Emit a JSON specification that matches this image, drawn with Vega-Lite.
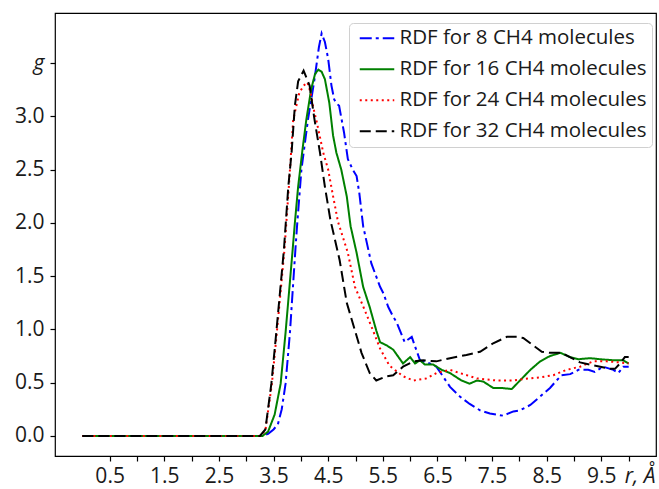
{
  "$schema": "https://vega.github.io/schema/vega-lite/v6.json",
  "width": 601,
  "height": 443,
  "autosize": {"type": "none"},
  "padding": {"left": 55, "top": 13, "right": 3, "bottom": 33},
  "background": "white",
  "config": {
    "view": {"stroke": "black", "strokeWidth": 1.2},
    "axis": {"domain": false, "grid": false, "tickColor": "black", "tickSize": 5, "tickWidth": 1.2, "labelFont": "Open Sans", "labelFontSize": 21, "labelColor": "#1a1a1a", "title": null}
  },
  "data": {"values": [
    {"s":"RDF for 8 CH4 molecules","r":0,"g":0},{"s":"RDF for 8 CH4 molecules","r":3.3,"g":0},{"s":"RDF for 8 CH4 molecules","r":3.4,"g":0.02},{"s":"RDF for 8 CH4 molecules","r":3.5,"g":0.06},{"s":"RDF for 8 CH4 molecules","r":3.58,"g":0.11},{"s":"RDF for 8 CH4 molecules","r":3.65,"g":0.25},{"s":"RDF for 8 CH4 molecules","r":3.72,"g":0.49},{"s":"RDF for 8 CH4 molecules","r":3.8,"g":0.97},{"s":"RDF for 8 CH4 molecules","r":3.9,"g":1.75},{"s":"RDF for 8 CH4 molecules","r":3.93,"g":1.97},{"s":"RDF for 8 CH4 molecules","r":4.01,"g":2.5},{"s":"RDF for 8 CH4 molecules","r":4.13,"g":2.97},{"s":"RDF for 8 CH4 molecules","r":4.25,"g":3.35},{"s":"RDF for 8 CH4 molecules","r":4.33,"g":3.65},{"s":"RDF for 8 CH4 molecules","r":4.38,"g":3.78},{"s":"RDF for 8 CH4 molecules","r":4.44,"g":3.7},{"s":"RDF for 8 CH4 molecules","r":4.5,"g":3.54},{"s":"RDF for 8 CH4 molecules","r":4.56,"g":3.29},{"s":"RDF for 8 CH4 molecules","r":4.61,"g":3.16},{"s":"RDF for 8 CH4 molecules","r":4.66,"g":3.12},{"s":"RDF for 8 CH4 molecules","r":4.7,"g":3.1},{"s":"RDF for 8 CH4 molecules","r":4.79,"g":2.85},{"s":"RDF for 8 CH4 molecules","r":4.86,"g":2.6},{"s":"RDF for 8 CH4 molecules","r":4.95,"g":2.5},{"s":"RDF for 8 CH4 molecules","r":5.02,"g":2.44},{"s":"RDF for 8 CH4 molecules","r":5.07,"g":2.28},{"s":"RDF for 8 CH4 molecules","r":5.14,"g":1.97},{"s":"RDF for 8 CH4 molecules","r":5.29,"g":1.62},{"s":"RDF for 8 CH4 molecules","r":5.45,"g":1.4},{"s":"RDF for 8 CH4 molecules","r":5.51,"g":1.34},{"s":"RDF for 8 CH4 molecules","r":5.6,"g":1.21},{"s":"RDF for 8 CH4 molecules","r":5.69,"g":1.12},{"s":"RDF for 8 CH4 molecules","r":5.75,"g":1.07},{"s":"RDF for 8 CH4 molecules","r":5.9,"g":0.88},{"s":"RDF for 8 CH4 molecules","r":5.95,"g":0.9},{"s":"RDF for 8 CH4 molecules","r":6.03,"g":0.93},{"s":"RDF for 8 CH4 molecules","r":6.09,"g":0.84},{"s":"RDF for 8 CH4 molecules","r":6.18,"g":0.71},{"s":"RDF for 8 CH4 molecules","r":6.36,"g":0.68},{"s":"RDF for 8 CH4 molecules","r":6.48,"g":0.65},{"s":"RDF for 8 CH4 molecules","r":6.6,"g":0.56},{"s":"RDF for 8 CH4 molecules","r":6.73,"g":0.46},{"s":"RDF for 8 CH4 molecules","r":6.91,"g":0.37},{"s":"RDF for 8 CH4 molecules","r":7.09,"g":0.3},{"s":"RDF for 8 CH4 molecules","r":7.28,"g":0.24},{"s":"RDF for 8 CH4 molecules","r":7.46,"g":0.21},{"s":"RDF for 8 CH4 molecules","r":7.7,"g":0.19},{"s":"RDF for 8 CH4 molecules","r":7.89,"g":0.23},{"s":"RDF for 8 CH4 molecules","r":8.01,"g":0.24},{"s":"RDF for 8 CH4 molecules","r":8.2,"g":0.29},{"s":"RDF for 8 CH4 molecules","r":8.38,"g":0.37},{"s":"RDF for 8 CH4 molecules","r":8.56,"g":0.45},{"s":"RDF for 8 CH4 molecules","r":8.68,"g":0.52},{"s":"RDF for 8 CH4 molecules","r":8.77,"g":0.57},{"s":"RDF for 8 CH4 molecules","r":8.93,"g":0.58},{"s":"RDF for 8 CH4 molecules","r":9.08,"g":0.62},{"s":"RDF for 8 CH4 molecules","r":9.26,"g":0.62},{"s":"RDF for 8 CH4 molecules","r":9.38,"g":0.6},{"s":"RDF for 8 CH4 molecules","r":9.53,"g":0.65},{"s":"RDF for 8 CH4 molecules","r":9.72,"g":0.62},{"s":"RDF for 8 CH4 molecules","r":9.81,"g":0.59},{"s":"RDF for 8 CH4 molecules","r":9.9,"g":0.65},{"s":"RDF for 8 CH4 molecules","r":10.0,"g":0.65},

    {"s":"RDF for 16 CH4 molecules","r":0,"g":0},{"s":"RDF for 16 CH4 molecules","r":3.3,"g":0},{"s":"RDF for 16 CH4 molecules","r":3.4,"g":0.04},{"s":"RDF for 16 CH4 molecules","r":3.52,"g":0.2},{"s":"RDF for 16 CH4 molecules","r":3.63,"g":0.49},{"s":"RDF for 16 CH4 molecules","r":3.72,"g":0.97},{"s":"RDF for 16 CH4 molecules","r":3.85,"g":1.75},{"s":"RDF for 16 CH4 molecules","r":3.89,"g":2.0},{"s":"RDF for 16 CH4 molecules","r":3.95,"g":2.34},{"s":"RDF for 16 CH4 molecules","r":4.03,"g":2.69},{"s":"RDF for 16 CH4 molecules","r":4.1,"g":2.97},{"s":"RDF for 16 CH4 molecules","r":4.19,"g":3.26},{"s":"RDF for 16 CH4 molecules","r":4.26,"g":3.4},{"s":"RDF for 16 CH4 molecules","r":4.32,"g":3.44},{"s":"RDF for 16 CH4 molecules","r":4.38,"g":3.42},{"s":"RDF for 16 CH4 molecules","r":4.44,"g":3.35},{"s":"RDF for 16 CH4 molecules","r":4.52,"g":3.13},{"s":"RDF for 16 CH4 molecules","r":4.59,"g":2.82},{"s":"RDF for 16 CH4 molecules","r":4.65,"g":2.66},{"s":"RDF for 16 CH4 molecules","r":4.74,"g":2.5},{"s":"RDF for 16 CH4 molecules","r":4.84,"g":2.25},{"s":"RDF for 16 CH4 molecules","r":4.91,"g":1.97},{"s":"RDF for 16 CH4 molecules","r":5.02,"g":1.72},{"s":"RDF for 16 CH4 molecules","r":5.14,"g":1.4},{"s":"RDF for 16 CH4 molecules","r":5.26,"g":1.21},{"s":"RDF for 16 CH4 molecules","r":5.38,"g":0.99},{"s":"RDF for 16 CH4 molecules","r":5.45,"g":0.88},{"s":"RDF for 16 CH4 molecules","r":5.57,"g":0.85},{"s":"RDF for 16 CH4 molecules","r":5.69,"g":0.81},{"s":"RDF for 16 CH4 molecules","r":5.87,"g":0.68},{"s":"RDF for 16 CH4 molecules","r":6.0,"g":0.74},{"s":"RDF for 16 CH4 molecules","r":6.09,"g":0.68},{"s":"RDF for 16 CH4 molecules","r":6.18,"g":0.71},{"s":"RDF for 16 CH4 molecules","r":6.27,"g":0.67},{"s":"RDF for 16 CH4 molecules","r":6.42,"g":0.67},{"s":"RDF for 16 CH4 molecules","r":6.58,"g":0.62},{"s":"RDF for 16 CH4 molecules","r":6.73,"g":0.59},{"s":"RDF for 16 CH4 molecules","r":6.94,"g":0.52},{"s":"RDF for 16 CH4 molecules","r":7.09,"g":0.49},{"s":"RDF for 16 CH4 molecules","r":7.22,"g":0.52},{"s":"RDF for 16 CH4 molecules","r":7.34,"g":0.51},{"s":"RDF for 16 CH4 molecules","r":7.52,"g":0.45},{"s":"RDF for 16 CH4 molecules","r":7.67,"g":0.45},{"s":"RDF for 16 CH4 molecules","r":7.86,"g":0.44},{"s":"RDF for 16 CH4 molecules","r":8.01,"g":0.52},{"s":"RDF for 16 CH4 molecules","r":8.2,"g":0.62},{"s":"RDF for 16 CH4 molecules","r":8.38,"g":0.7},{"s":"RDF for 16 CH4 molecules","r":8.56,"g":0.75},{"s":"RDF for 16 CH4 molecules","r":8.75,"g":0.78},{"s":"RDF for 16 CH4 molecules","r":8.93,"g":0.74},{"s":"RDF for 16 CH4 molecules","r":9.08,"g":0.72},{"s":"RDF for 16 CH4 molecules","r":9.29,"g":0.73},{"s":"RDF for 16 CH4 molecules","r":9.48,"g":0.72},{"s":"RDF for 16 CH4 molecules","r":9.72,"g":0.71},{"s":"RDF for 16 CH4 molecules","r":9.9,"g":0.71},{"s":"RDF for 16 CH4 molecules","r":10.0,"g":0.68},

    {"s":"RDF for 24 CH4 molecules","r":0,"g":0},{"s":"RDF for 24 CH4 molecules","r":3.25,"g":0},{"s":"RDF for 24 CH4 molecules","r":3.35,"g":0.05},{"s":"RDF for 24 CH4 molecules","r":3.47,"g":0.49},{"s":"RDF for 24 CH4 molecules","r":3.56,"g":0.97},{"s":"RDF for 24 CH4 molecules","r":3.7,"g":1.75},{"s":"RDF for 24 CH4 molecules","r":3.78,"g":2.34},{"s":"RDF for 24 CH4 molecules","r":3.86,"g":2.97},{"s":"RDF for 24 CH4 molecules","r":3.97,"g":3.22},{"s":"RDF for 24 CH4 molecules","r":4.05,"g":3.29},{"s":"RDF for 24 CH4 molecules","r":4.12,"g":3.32},{"s":"RDF for 24 CH4 molecules","r":4.18,"g":3.22},{"s":"RDF for 24 CH4 molecules","r":4.22,"g":3.1},{"s":"RDF for 24 CH4 molecules","r":4.29,"g":2.95},{"s":"RDF for 24 CH4 molecules","r":4.41,"g":2.66},{"s":"RDF for 24 CH4 molecules","r":4.5,"g":2.5},{"s":"RDF for 24 CH4 molecules","r":4.59,"g":2.25},{"s":"RDF for 24 CH4 molecules","r":4.68,"g":2.01},{"s":"RDF for 24 CH4 molecules","r":4.86,"g":1.72},{"s":"RDF for 24 CH4 molecules","r":4.99,"g":1.4},{"s":"RDF for 24 CH4 molecules","r":5.17,"g":1.18},{"s":"RDF for 24 CH4 molecules","r":5.32,"g":0.99},{"s":"RDF for 24 CH4 molecules","r":5.45,"g":0.82},{"s":"RDF for 24 CH4 molecules","r":5.62,"g":0.66},{"s":"RDF for 24 CH4 molecules","r":5.87,"g":0.56},{"s":"RDF for 24 CH4 molecules","r":6.06,"g":0.52},{"s":"RDF for 24 CH4 molecules","r":6.3,"g":0.54},{"s":"RDF for 24 CH4 molecules","r":6.48,"g":0.59},{"s":"RDF for 24 CH4 molecules","r":6.73,"g":0.62},{"s":"RDF for 24 CH4 molecules","r":6.91,"g":0.59},{"s":"RDF for 24 CH4 molecules","r":7.22,"g":0.54},{"s":"RDF for 24 CH4 molecules","r":7.58,"g":0.52},{"s":"RDF for 24 CH4 molecules","r":7.89,"g":0.52},{"s":"RDF for 24 CH4 molecules","r":8.01,"g":0.53},{"s":"RDF for 24 CH4 molecules","r":8.38,"g":0.55},{"s":"RDF for 24 CH4 molecules","r":8.62,"g":0.57},{"s":"RDF for 24 CH4 molecules","r":8.86,"g":0.62},{"s":"RDF for 24 CH4 molecules","r":9.11,"g":0.65},{"s":"RDF for 24 CH4 molecules","r":9.35,"g":0.7},{"s":"RDF for 24 CH4 molecules","r":9.6,"g":0.7},{"s":"RDF for 24 CH4 molecules","r":9.84,"g":0.69},{"s":"RDF for 24 CH4 molecules","r":10.0,"g":0.68},

    {"s":"RDF for 32 CH4 molecules","r":0,"g":0},{"s":"RDF for 32 CH4 molecules","r":3.25,"g":0},{"s":"RDF for 32 CH4 molecules","r":3.35,"g":0.06},{"s":"RDF for 32 CH4 molecules","r":3.46,"g":0.49},{"s":"RDF for 32 CH4 molecules","r":3.55,"g":0.97},{"s":"RDF for 32 CH4 molecules","r":3.69,"g":1.75},{"s":"RDF for 32 CH4 molecules","r":3.77,"g":2.34},{"s":"RDF for 32 CH4 molecules","r":3.83,"g":2.66},{"s":"RDF for 32 CH4 molecules","r":3.89,"g":3.1},{"s":"RDF for 32 CH4 molecules","r":3.95,"g":3.33},{"s":"RDF for 32 CH4 molecules","r":4.05,"g":3.43},{"s":"RDF for 32 CH4 molecules","r":4.16,"g":3.29},{"s":"RDF for 32 CH4 molecules","r":4.25,"g":2.97},{"s":"RDF for 32 CH4 molecules","r":4.35,"g":2.66},{"s":"RDF for 32 CH4 molecules","r":4.44,"g":2.34},{"s":"RDF for 32 CH4 molecules","r":4.54,"g":2.03},{"s":"RDF for 32 CH4 molecules","r":4.71,"g":1.65},{"s":"RDF for 32 CH4 molecules","r":4.84,"g":1.25},{"s":"RDF for 32 CH4 molecules","r":4.99,"g":0.99},{"s":"RDF for 32 CH4 molecules","r":5.11,"g":0.78},{"s":"RDF for 32 CH4 molecules","r":5.26,"g":0.59},{"s":"RDF for 32 CH4 molecules","r":5.38,"g":0.52},{"s":"RDF for 32 CH4 molecules","r":5.57,"g":0.56},{"s":"RDF for 32 CH4 molecules","r":5.69,"g":0.57},{"s":"RDF for 32 CH4 molecules","r":5.87,"g":0.65},{"s":"RDF for 32 CH4 molecules","r":6.06,"g":0.7},{"s":"RDF for 32 CH4 molecules","r":6.24,"g":0.71},{"s":"RDF for 32 CH4 molecules","r":6.48,"g":0.7},{"s":"RDF for 32 CH4 molecules","r":6.73,"g":0.73},{"s":"RDF for 32 CH4 molecules","r":7.03,"g":0.76},{"s":"RDF for 32 CH4 molecules","r":7.28,"g":0.79},{"s":"RDF for 32 CH4 molecules","r":7.52,"g":0.87},{"s":"RDF for 32 CH4 molecules","r":7.77,"g":0.93},{"s":"RDF for 32 CH4 molecules","r":7.95,"g":0.93},{"s":"RDF for 32 CH4 molecules","r":8.07,"g":0.92},{"s":"RDF for 32 CH4 molecules","r":8.25,"g":0.85},{"s":"RDF for 32 CH4 molecules","r":8.41,"g":0.79},{"s":"RDF for 32 CH4 molecules","r":8.56,"g":0.78},{"s":"RDF for 32 CH4 molecules","r":8.77,"g":0.78},{"s":"RDF for 32 CH4 molecules","r":8.96,"g":0.73},{"s":"RDF for 32 CH4 molecules","r":9.11,"g":0.69},{"s":"RDF for 32 CH4 molecules","r":9.29,"g":0.67},{"s":"RDF for 32 CH4 molecules","r":9.48,"g":0.65},{"s":"RDF for 32 CH4 molecules","r":9.66,"g":0.63},{"s":"RDF for 32 CH4 molecules","r":9.75,"g":0.63},{"s":"RDF for 32 CH4 molecules","r":9.84,"g":0.68},{"s":"RDF for 32 CH4 molecules","r":9.93,"g":0.74},{"s":"RDF for 32 CH4 molecules","r":10.0,"g":0.74}
  ]},
  "mark": {"type": "line", "clip": true},
  "encoding": {
    "x": {"field": "r", "type": "quantitative",
      "scale": {"domain": [-0.5, 10.5], "nice": false, "zero": false},
      "axis": {"values": [0.5,1,1.5,2,2.5,3,3.5,4,4.5,5,5.5,6,6.5,7,7.5,8,8.5,9,9.5,10],
        "labelExpr": "datum.value == 10 ? 'r, Å' : (datum.value % 1 == 0.5 ? format(datum.value, '.1f') : '')",
        "labelPadding": 4,
        "labelFlush": false,
        "labelOverlap": false,
        "labelOffset": {"condition": {"test": "datum.value == 10", "value": 11}, "value": 0},
        "labelFontStyle": {"condition": {"test": "datum.value == 10", "value": "italic"}, "value": "normal"}}},
    "y": {"field": "g", "type": "quantitative",
      "scale": {"domain": [-0.189, 3.972], "nice": false, "zero": false},
      "axis": {"values": [0,0.5,1,1.5,2,2.5,3,3.5],
        "labelExpr": "datum.value == 3.5 ? 'g' : format(datum.value, '.1f')",
        "labelPadding": 6,
        "labelFlush": false,
        "labelOverlap": false,
        "labelFontStyle": {"condition": {"test": "datum.value == 3.5", "value": "italic"}, "value": "normal"}}},
    "color": {"field": "s", "type": "nominal",
      "scale": {"domain": ["RDF for 8 CH4 molecules","RDF for 16 CH4 molecules","RDF for 24 CH4 molecules","RDF for 32 CH4 molecules"],
        "range": ["#0000ff","#008000","#ff0000","#000000"]},
      "legend": {"orient": "none", "legendX": 294, "legendY": 10, "title": null,
        "fillColor": "white", "strokeColor": "#d0d0d0", "cornerRadius": 4, "padding": 5,
        "labelFont": "Open Sans", "labelFontSize": 20.5, "labelColor": "#1a1a1a", "labelOffset": 25, "labelLimit": 400,
        "symbolType": "M-0.9,0L6.0,0", "symbolSize": 100, "rowPadding": 10}},
    "strokeDash": {"field": "s", "type": "nominal",
      "scale": {"domain": ["RDF for 8 CH4 molecules","RDF for 16 CH4 molecules","RDF for 24 CH4 molecules","RDF for 32 CH4 molecules"],
        "range": [[12,4,3,4],[1,0],[2,3.5],[11,5]]}},
    "strokeWidth": {"field": "s", "type": "nominal",
      "scale": {"domain": ["RDF for 8 CH4 molecules","RDF for 16 CH4 molecules","RDF for 24 CH4 molecules","RDF for 32 CH4 molecules"],
        "range": [2,2,2.5,2.8]}}
  }
}
